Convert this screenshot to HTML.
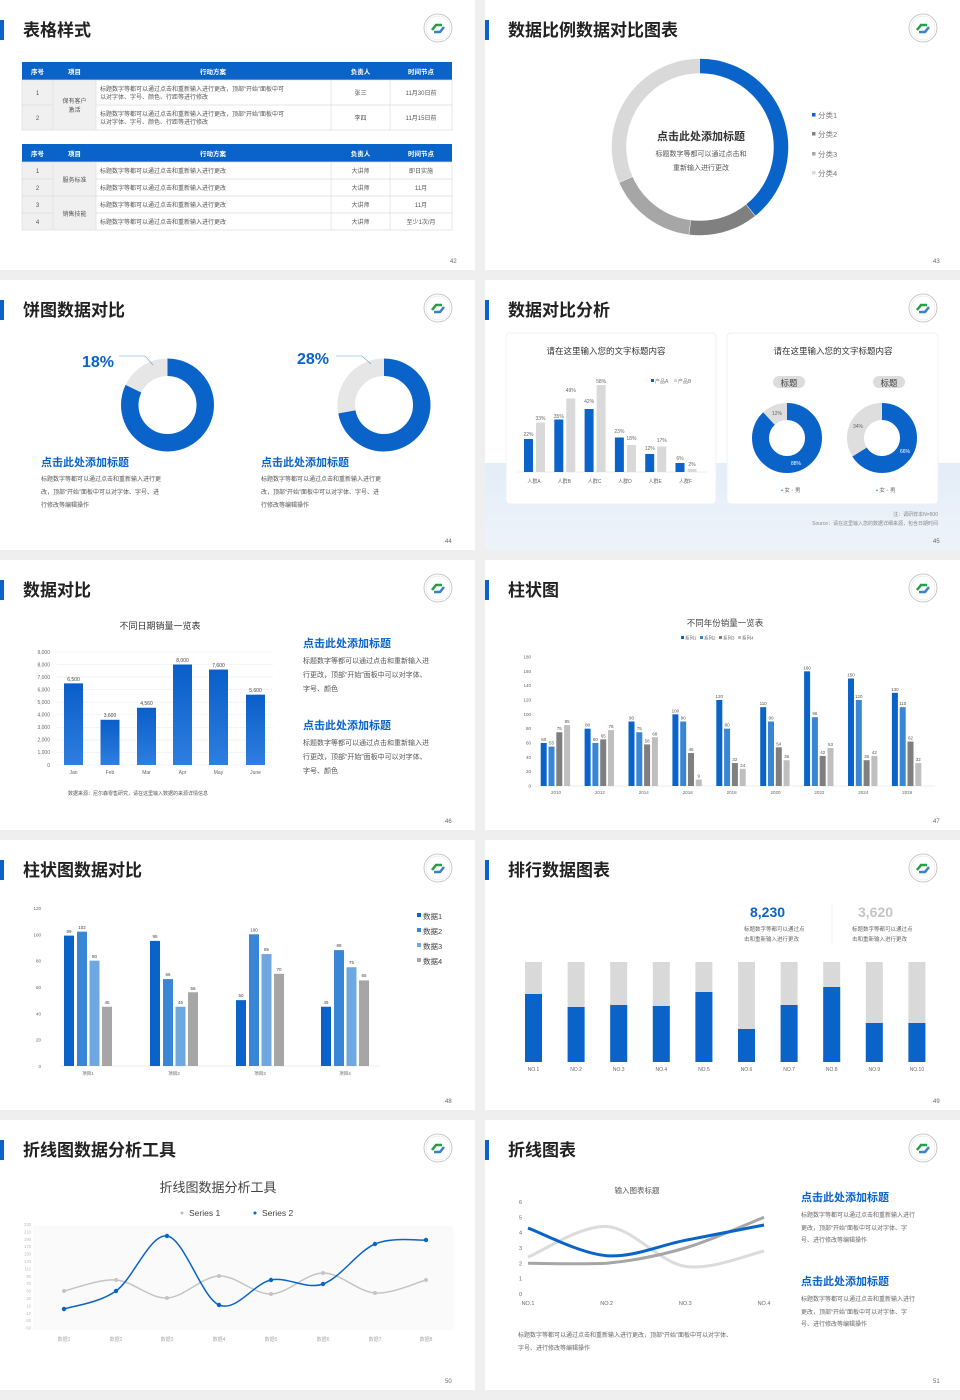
<!DOCTYPE html>
<html><head><meta charset="utf-8"><style>
html,body{margin:0;padding:0;background:#efefef;}
svg{display:block;font-family:"Liberation Sans","Noto Sans CJK SC",sans-serif;}
.t{font-size:17px;font-weight:bold;fill:#222;}
.pg{font-size:6px;fill:#666;}
.s6{font-size:6px;fill:#555;}
.s5{font-size:5px;fill:#555;}
.hd{font-size:6.5px;fill:#fff;font-weight:bold;}
.bh{font-size:11px;font-weight:bold;fill:#0a63c9;}
.bd{font-size:7px;fill:#555;}
</style></head><body>
<svg width="960" height="1400" viewBox="0 0 960 1400" xmlns="http://www.w3.org/2000/svg">
<defs>
<g id="logo"><circle cx="438" cy="28" r="14" fill="#fff" stroke="#bbb" stroke-width="0.8"/><circle cx="438" cy="28" r="12" fill="none" stroke="#ddd" stroke-width="0.5"/><path d="M432 30 l4 -5 h6" stroke="#2a9d4b" stroke-width="2.6" fill="none"/><path d="M444 27 l-4 5 h-6" stroke="#3a7fd0" stroke-width="2.6" fill="none"/></g>
<linearGradient id="bg5" x1="0" y1="0" x2="0" y2="1"><stop offset="0" stop-color="#2f7ee0"/><stop offset="1" stop-color="#0a5ec8"/></linearGradient>
<linearGradient id="lb" x1="0" y1="0" x2="0" y2="1"><stop offset="0" stop-color="#e3edf8"/><stop offset="1" stop-color="#eef3fa"/></linearGradient>
</defs>

<!-- Slide 42 -->
<g transform="translate(0,0)">
<rect width="475" height="270" fill="#fff"/><rect x="0" y="20" width="4" height="20" fill="#0a63c9"/>
<text x="23" y="36" class="t">表格样式</text><use href="#logo"/><text x="450" y="263" class="pg">42</text>
<rect x="22" y="62" width="430" height="18" fill="#0a63c9"/>
<rect x="22" y="80" width="74" height="50" fill="#f0f0f0"/>
<g stroke="#ddd" stroke-width="0.7" fill="none"><rect x="22" y="80" width="430" height="50"/><line x1="22" y1="105" x2="53" y2="105"/><line x1="96" y1="105" x2="452" y2="105"/><line x1="53" y1="80" x2="53" y2="130"/><line x1="96" y1="80" x2="96" y2="130"/><line x1="331" y1="80" x2="331" y2="130"/><line x1="390" y1="80" x2="390" y2="130"/></g>
<g text-anchor="middle"><text x="37.5" y="74" class="hd">序号</text><text x="74.5" y="74" class="hd">项目</text><text x="213" y="74" class="hd">行动方案</text><text x="360.5" y="74" class="hd">负责人</text><text x="421" y="74" class="hd">时间节点</text>
<text x="37.5" y="95" class="s6">1</text><text x="37.5" y="120" class="s6">2</text><text x="74.5" y="103" class="s6">保有客户</text><text x="74.5" y="112" class="s6">激活</text>
<text x="360.5" y="95" class="s6">张三</text><text x="360.5" y="120" class="s6">李四</text><text x="421" y="95" class="s6">11月30日前</text><text x="421" y="120" class="s6">11月15日前</text></g>
<text x="100" y="91" class="s6">标题数字等都可以通过点击和重新输入进行更改，顶部“开始”面板中可</text><text x="100" y="99" class="s6">以对字体、字号、颜色、行距等进行修改</text>
<text x="100" y="116" class="s6">标题数字等都可以通过点击和重新输入进行更改，顶部“开始”面板中可</text><text x="100" y="124" class="s6">以对字体、字号、颜色、行距等进行修改</text>
<rect x="22" y="144" width="430" height="18" fill="#0a63c9"/>
<rect x="22" y="162" width="74" height="68" fill="#f0f0f0"/>
<g stroke="#ddd" stroke-width="0.7" fill="none"><rect x="22" y="162" width="430" height="68"/><line x1="22" y1="179" x2="53" y2="179"/><line x1="96" y1="179" x2="452" y2="179"/><line x1="22" y1="196" x2="452" y2="196"/><line x1="22" y1="213" x2="53" y2="213"/><line x1="96" y1="213" x2="452" y2="213"/><line x1="53" y1="162" x2="53" y2="230"/><line x1="96" y1="162" x2="96" y2="230"/><line x1="331" y1="162" x2="331" y2="230"/><line x1="390" y1="162" x2="390" y2="230"/></g>
<g text-anchor="middle"><text x="37.5" y="156" class="hd">序号</text><text x="74.5" y="156" class="hd">项目</text><text x="213" y="156" class="hd">行动方案</text><text x="360.5" y="156" class="hd">负责人</text><text x="421" y="156" class="hd">时间节点</text>
<text x="37.5" y="173" class="s6">1</text><text x="37.5" y="190" class="s6">2</text><text x="37.5" y="207" class="s6">3</text><text x="37.5" y="224" class="s6">4</text>
<text x="74.5" y="182" class="s6">服务标准</text><text x="74.5" y="216" class="s6">销售技能</text>
<text x="360.5" y="173" class="s6">大讲师</text><text x="360.5" y="190" class="s6">大讲师</text><text x="360.5" y="207" class="s6">大讲师</text><text x="360.5" y="224" class="s6">大讲师</text>
<text x="421" y="173" class="s6">即日实施</text><text x="421" y="190" class="s6">11月</text><text x="421" y="207" class="s6">11月</text><text x="421" y="224" class="s6">至少1次/月</text></g>
<text x="100" y="173" class="s6">标题数字等都可以通过点击和重新输入进行更改</text><text x="100" y="190" class="s6">标题数字等都可以通过点击和重新输入进行更改</text><text x="100" y="207" class="s6">标题数字等都可以通过点击和重新输入进行更改</text><text x="100" y="224" class="s6">标题数字等都可以通过点击和重新输入进行更改</text>
</g>

<!-- Slide 43 -->
<g transform="translate(485,0)">
<rect width="475" height="270" fill="#fff"/><rect x="0" y="20" width="4" height="20" fill="#0a63c9"/>
<text x="23" y="36" class="t">数据比例数据对比图表</text><use href="#logo"/><text x="448" y="263" class="pg">43</text>
<g transform="rotate(-90 215 147)" fill="none" stroke-width="14.5">
<circle cx="215" cy="147" r="81" stroke="#0a63c9" stroke-dasharray="199.3 600"/>
<circle cx="215" cy="147" r="81" stroke="#808080" stroke-dasharray="0 199.8 64.5 600"/>
<circle cx="215" cy="147" r="81" stroke="#a6a6a6" stroke-dasharray="0 264.8 82.9 600"/>
<circle cx="215" cy="147" r="81" stroke="#d9d9d9" stroke-dasharray="0 348.2 160.7 600"/>
</g>
<g text-anchor="middle"><text x="216" y="140" font-size="11" font-weight="bold" fill="#333">点击此处添加标题</text><text x="216" y="156" font-size="7" fill="#555">标题数字等都可以通过点击和</text><text x="216" y="170" font-size="7" fill="#555">重新输入进行更改</text></g>
<rect x="327" y="113" width="3.5" height="3.5" fill="#0a63c9"/><text x="333" y="118" font-size="7.5" fill="#777">分类1</text>
<rect x="327" y="132" width="3.5" height="3.5" fill="#808080"/><text x="333" y="137" font-size="7.5" fill="#777">分类2</text>
<rect x="327" y="152" width="3.5" height="3.5" fill="#a6a6a6"/><text x="333" y="157" font-size="7.5" fill="#777">分类3</text>
<rect x="327" y="171" width="3.5" height="3.5" fill="#d9d9d9"/><text x="333" y="176" font-size="7.5" fill="#777">分类4</text>
</g>

<!-- Slide 44 -->
<g transform="translate(0,280)">
<rect width="475" height="270" fill="#fff"/><rect x="0" y="20" width="4" height="20" fill="#0a63c9"/>
<text x="23" y="36" class="t">饼图数据对比</text><use href="#logo"/><text x="445" y="263" class="pg">44</text>
<g fill="none" stroke-width="17.5">
<g transform="rotate(-90 167.5 125)"><circle cx="167.5" cy="125" r="37.75" stroke="#0a63c9" stroke-dasharray="194.5 400"/><circle cx="167.5" cy="125" r="37.75" stroke="#e6e6e6" stroke-dasharray="0 194.5 42.7 400"/></g>
<g transform="rotate(-90 384 125)"><circle cx="384" cy="125" r="37.75" stroke="#0a63c9" stroke-dasharray="170.8 400"/><circle cx="384" cy="125" r="37.75" stroke="#e6e6e6" stroke-dasharray="0 170.8 66.4 400"/></g>
</g>
<text x="82" y="87" font-size="16" font-weight="bold" fill="#0a63c9">18%</text>
<polyline points="119,76 145,76 153,85" fill="none" stroke="#6a9fd8" stroke-width="0.6"/>
<text x="297" y="84" font-size="16" font-weight="bold" fill="#0a63c9">28%</text>
<polyline points="336,76 362,76 371,84" fill="none" stroke="#6a9fd8" stroke-width="0.6"/>
<text x="41" y="186" class="bh">点击此处添加标题</text>
<text x="41" y="201" class="s6">标题数字等都可以通过点击和重新输入进行更</text><text x="41" y="214" class="s6">改，顶部“开始”面板中可以对字体、字号、进</text><text x="41" y="227" class="s6">行修改等编辑操作</text>
<text x="261" y="186" class="bh">点击此处添加标题</text>
<text x="261" y="201" class="s6">标题数字等都可以通过点击和重新输入进行更</text><text x="261" y="214" class="s6">改，顶部“开始”面板中可以对字体、字号、进</text><text x="261" y="227" class="s6">行修改等编辑操作</text>
</g>

<!-- Slide 45 -->
<g transform="translate(485,280)">
<rect width="475" height="270" fill="#fff"/><rect x="0" y="183" width="475" height="87" fill="url(#lb)"/><rect x="0" y="20" width="4" height="20" fill="#0a63c9"/>
<text x="23" y="36" class="t">数据对比分析</text><use href="#logo"/><text x="448" y="263" class="pg">45</text>
<rect x="21" y="53" width="210" height="171" rx="4" fill="#fff" stroke="#eef0f3"/>
<rect x="242" y="53" width="211" height="171" rx="4" fill="#fff" stroke="#eef0f3"/>
<text x="121" y="74" font-size="8.5" fill="#333" text-anchor="middle">请在这里输入您的文字标题内容</text>
<text x="348" y="74" font-size="8.5" fill="#333" text-anchor="middle">请在这里输入您的文字标题内容</text>
<rect x="166" y="99" width="3" height="3" fill="#0a63c9"/><text x="170" y="103" font-size="5" fill="#777">产品A</text>
<rect x="189" y="99" width="3" height="3" fill="#d9d9d9"/><text x="193" y="103" font-size="5" fill="#777">产品B</text>
<line x1="32" y1="192" x2="222" y2="192" stroke="#ddd" stroke-width="0.6"/>
<g transform="translate(0,192) scale(1,-1.5)">
<rect x="39" y="0" width="9" height="22" fill="#0a63c9"/><rect x="51" y="0" width="9" height="33" fill="#d9d9d9"/>
<rect x="69.3" y="0" width="9" height="35" fill="#0a63c9"/><rect x="81.3" y="0" width="9" height="49" fill="#d9d9d9"/>
<rect x="99.6" y="0" width="9" height="42" fill="#0a63c9"/><rect x="111.6" y="0" width="9" height="58" fill="#d9d9d9"/>
<rect x="129.9" y="0" width="9" height="23" fill="#0a63c9"/><rect x="141.9" y="0" width="9" height="18" fill="#d9d9d9"/>
<rect x="160.2" y="0" width="9" height="12" fill="#0a63c9"/><rect x="172.2" y="0" width="9" height="17" fill="#d9d9d9"/>
<rect x="190.5" y="0" width="9" height="6" fill="#0a63c9"/><rect x="202.5" y="0" width="9" height="2" fill="#d9d9d9"/>
</g>
<g font-size="5" fill="#666" text-anchor="middle">
<text x="43.5" y="156">22%</text><text x="55.5" y="140">33%</text><text x="73.8" y="138">35%</text><text x="85.8" y="112">49%</text><text x="104.1" y="123">42%</text><text x="116.1" y="103">58%</text>
<text x="134.4" y="153">23%</text><text x="146.4" y="160">18%</text><text x="164.7" y="170">12%</text><text x="176.7" y="162">17%</text><text x="195" y="180">6%</text><text x="207" y="186">2%</text>
<text x="49" y="203">人群A</text><text x="79.3" y="203">人群B</text><text x="109.6" y="203">人群C</text><text x="139.9" y="203">人群D</text><text x="170.2" y="203">人群E</text><text x="200.5" y="203">人群F</text></g>
<rect x="288" y="96" width="32" height="12" rx="6" fill="#dcdcdc"/><text x="304" y="106" font-size="8.5" fill="#444" text-anchor="middle">标题</text>
<rect x="388" y="96" width="32" height="12" rx="6" fill="#dcdcdc"/><text x="404" y="106" font-size="8.5" fill="#444" text-anchor="middle">标题</text>
<g fill="none" stroke-width="17">
<g transform="rotate(-90 302 158)"><circle cx="302" cy="158" r="26.5" stroke="#0a63c9" stroke-dasharray="146.5 300"/><circle cx="302" cy="158" r="26.5" stroke="#dedede" stroke-dasharray="0 146.5 20 300"/></g>
<g transform="rotate(-90 397 158)"><circle cx="397" cy="158" r="26.5" stroke="#0a63c9" stroke-dasharray="109.9 300"/><circle cx="397" cy="158" r="26.5" stroke="#dedede" stroke-dasharray="0 109.9 56.6 300"/></g>
</g>
<g font-size="5" text-anchor="middle"><text x="292" y="135" fill="#666">12%</text><text x="311" y="185" fill="#fff">88%</text><text x="373" y="148" fill="#666">34%</text><text x="420" y="173" fill="#fff">66%</text></g>
<g font-size="5.5" fill="#666"><text x="296" y="212"><tspan fill="#0a63c9">•</tspan> 女 <tspan fill="#ccc">•</tspan> 男</text><text x="391" y="212"><tspan fill="#0a63c9">•</tspan> 女 <tspan fill="#ccc">•</tspan> 男</text></g>
<g font-size="5" fill="#888" text-anchor="end"><text x="453" y="236">注：调研样本N=500</text><text x="453" y="245">Source：请在这里输入您的数据详细来源，包含日期时间</text></g>
</g>

<!-- Slide 46 -->
<g transform="translate(0,560)">
<rect width="475" height="270" fill="#fff"/><rect x="0" y="20" width="4" height="20" fill="#0a63c9"/>
<text x="23" y="36" class="t">数据对比</text><use href="#logo"/><text x="445" y="263" class="pg">46</text>
<text x="160" y="69" font-size="9" fill="#333" text-anchor="middle">不同日期销量一览表</text>
<g stroke="#eee" stroke-width="0.6"><line x1="57" y1="92" x2="273" y2="92"/><line x1="57" y1="104.6" x2="273" y2="104.6"/><line x1="57" y1="117.1" x2="273" y2="117.1"/><line x1="57" y1="129.7" x2="273" y2="129.7"/><line x1="57" y1="142.2" x2="273" y2="142.2"/><line x1="57" y1="154.8" x2="273" y2="154.8"/><line x1="57" y1="167.3" x2="273" y2="167.3"/><line x1="57" y1="179.9" x2="273" y2="179.9"/><line x1="57" y1="192.4" x2="273" y2="192.4"/><line x1="57" y1="205" x2="273" y2="205"/></g>
<g font-size="5" fill="#666" text-anchor="end"><text x="50" y="94">9,000</text><text x="50" y="106.5">8,000</text><text x="50" y="119">7,000</text><text x="50" y="131.5">6,000</text><text x="50" y="144">5,000</text><text x="50" y="156.5">4,000</text><text x="50" y="169">3,000</text><text x="50" y="181.5">2,000</text><text x="50" y="194">1,000</text><text x="50" y="207">0</text></g>
<g transform="translate(0,205) scale(1,-0.01256)" fill="url(#bg5)">
<rect x="64" y="0" width="19" height="6500"/><rect x="100.5" y="0" width="19" height="3600"/><rect x="137" y="0" width="19" height="4560"/><rect x="173" y="0" width="19" height="8000"/><rect x="209" y="0" width="19" height="7600"/><rect x="246" y="0" width="19" height="5600"/>
</g>
<g font-size="5" fill="#444" text-anchor="middle"><text x="73.5" y="121">6,500</text><text x="110" y="157">3,600</text><text x="146.5" y="145">4,560</text><text x="182.5" y="102">8,000</text><text x="218.5" y="107">7,600</text><text x="255.5" y="132">5,600</text>
<text x="73.5" y="214" fill="#666">Jan</text><text x="110" y="214" fill="#666">Feb</text><text x="146.5" y="214" fill="#666">Mar</text><text x="182.5" y="214" fill="#666">Apr</text><text x="218.5" y="214" fill="#666">May</text><text x="255.5" y="214" fill="#666">June</text></g>
<text x="68" y="235" font-size="5" fill="#555">数据来源：尼尔森零售研究，请在这里输入数据的来源详情信息</text>
<text x="303" y="87" class="bh">点击此处添加标题</text>
<text x="303" y="103" class="bd">标题数字等都可以通过点击和重新输入进</text><text x="303" y="117" class="bd">行更改，顶部“开始”面板中可以对字体、</text><text x="303" y="131" class="bd">字号、颜色</text>
<text x="303" y="169" class="bh">点击此处添加标题</text>
<text x="303" y="185" class="bd">标题数字等都可以通过点击和重新输入进</text><text x="303" y="199" class="bd">行更改，顶部“开始”面板中可以对字体、</text><text x="303" y="213" class="bd">字号、颜色</text>
</g>

<!-- Slide 47 -->
<g transform="translate(485,560)">
<rect width="475" height="270" fill="#fff"/><rect x="0" y="20" width="4" height="20" fill="#0a63c9"/>
<text x="23" y="36" class="t">柱状图</text><use href="#logo"/><text x="448" y="263" class="pg">47</text>
<text x="240" y="66" font-size="8.5" fill="#444" text-anchor="middle">不同年份销量一览表</text>
<g font-size="4.5" fill="#666"><rect x="196" y="76" width="3" height="3" fill="#0a63c9"/><text x="200" y="79.5">系列1</text><rect x="215" y="76" width="3" height="3" fill="#3a86d6"/><text x="219" y="79.5">系列2</text><rect x="234" y="76" width="3" height="3" fill="#7f7f7f"/><text x="238" y="79.5">系列3</text><rect x="253" y="76" width="3" height="3" fill="#bfbfbf"/><text x="257" y="79.5">系列4</text></g>
<g font-size="4.5" fill="#666" text-anchor="end"><text x="46" y="98.5">180</text><text x="46" y="112.8">160</text><text x="46" y="127.1">140</text><text x="46" y="141.5">120</text><text x="46" y="155.8">100</text><text x="46" y="170.1">80</text><text x="46" y="184.5">60</text><text x="46" y="198.8">40</text><text x="46" y="213.1">20</text><text x="46" y="227.5">0</text></g>
<line x1="50" y1="226" x2="450" y2="226" stroke="#ddd" stroke-width="0.6"/>
<g transform="translate(0,226) scale(1,-0.7167)">
<g fill="#0a63c9"><rect x="55.7" y="0" width="6" height="60"/><rect x="99.6" y="0" width="6" height="80"/><rect x="143.5" y="0" width="6" height="90"/><rect x="187.4" y="0" width="6" height="100"/><rect x="231.3" y="0" width="6" height="120"/><rect x="275.2" y="0" width="6" height="110"/><rect x="319.1" y="0" width="6" height="160"/><rect x="363" y="0" width="6" height="150"/><rect x="406.9" y="0" width="6" height="130"/></g>
<g fill="#3a86d6"><rect x="63.5" y="0" width="6" height="55"/><rect x="107.4" y="0" width="6" height="60"/><rect x="151.3" y="0" width="6" height="75"/><rect x="195.2" y="0" width="6" height="90"/><rect x="239.1" y="0" width="6" height="80"/><rect x="283" y="0" width="6" height="90"/><rect x="326.9" y="0" width="6" height="96"/><rect x="370.8" y="0" width="6" height="120"/><rect x="414.7" y="0" width="6" height="110"/></g>
<g fill="#7f7f7f"><rect x="71.3" y="0" width="6" height="75"/><rect x="115.2" y="0" width="6" height="65"/><rect x="159.1" y="0" width="6" height="58"/><rect x="203" y="0" width="6" height="46"/><rect x="246.9" y="0" width="6" height="32"/><rect x="290.8" y="0" width="6" height="54"/><rect x="334.7" y="0" width="6" height="42"/><rect x="378.6" y="0" width="6" height="36"/><rect x="422.5" y="0" width="6" height="62"/></g>
<g fill="#bfbfbf"><rect x="79.1" y="0" width="6" height="85"/><rect x="123" y="0" width="6" height="78"/><rect x="166.9" y="0" width="6" height="68"/><rect x="210.8" y="0" width="6" height="9"/><rect x="254.7" y="0" width="6" height="24"/><rect x="298.6" y="0" width="6" height="36"/><rect x="342.5" y="0" width="6" height="53"/><rect x="386.4" y="0" width="6" height="42"/><rect x="430.3" y="0" width="6" height="32"/></g>
</g>
<g font-size="4.5" fill="#555" text-anchor="middle">
<text x="58.7" y="181">60</text><text x="66.5" y="184.6">55</text><text x="74.3" y="170.2">75</text><text x="82.1" y="163">85</text>
<text x="102.6" y="166.7">80</text><text x="110.4" y="181">60</text><text x="118.2" y="177.4">65</text><text x="126" y="168">78</text>
<text x="146.5" y="159.5">90</text><text x="154.3" y="170.2">75</text><text x="162.1" y="182.4">58</text><text x="169.9" y="175.3">68</text>
<text x="190.4" y="152.3">100</text><text x="198.2" y="159.5">90</text><text x="206" y="191">46</text><text x="213.8" y="217.5">9</text>
<text x="234.3" y="138">120</text><text x="242.1" y="166.7">80</text><text x="249.9" y="201">32</text><text x="257.7" y="206.8">24</text>
<text x="278.2" y="145.2">110</text><text x="286" y="159.5">90</text><text x="293.8" y="185.3">54</text><text x="301.6" y="198.2">36</text>
<text x="322.1" y="109.3">160</text><text x="329.9" y="155.2">96</text><text x="337.7" y="193.9">42</text><text x="345.5" y="186">53</text>
<text x="366" y="116.5">150</text><text x="373.8" y="138">120</text><text x="381.6" y="198.2">36</text><text x="389.4" y="193.9">42</text>
<text x="409.9" y="130.8">130</text><text x="417.7" y="145.2">110</text><text x="425.5" y="179.6">62</text><text x="433.3" y="201">32</text></g>
<g font-size="4.5" fill="#666" text-anchor="middle"><text x="71" y="234">2010</text><text x="114.9" y="234">2012</text><text x="158.8" y="234">2014</text><text x="202.7" y="234">2016</text><text x="246.6" y="234">2018</text><text x="290.5" y="234">2020</text><text x="334.4" y="234">2022</text><text x="378.3" y="234">2024</text><text x="422.2" y="234">2026</text></g>
</g>

<!-- Slide 48 -->
<g transform="translate(0,840)">
<rect width="475" height="270" fill="#fff"/><rect x="0" y="20" width="4" height="20" fill="#0a63c9"/>
<text x="23" y="36" class="t">柱状图数据对比</text><use href="#logo"/><text x="445" y="263" class="pg">48</text>
<g font-size="4.5" fill="#666" text-anchor="end"><text x="41" y="70">120</text><text x="41" y="96.4">100</text><text x="41" y="122.7">80</text><text x="41" y="149">60</text><text x="41" y="175.4">40</text><text x="41" y="201.7">20</text><text x="41" y="228">0</text></g>
<line x1="60" y1="226" x2="380" y2="226" stroke="#ddd" stroke-width="0.6"/>
<g transform="translate(0,226) scale(1,-1.317)">
<g fill="#0a63c9"><rect x="64" y="0" width="10" height="99"/><rect x="150" y="0" width="10" height="95"/><rect x="236" y="0" width="10" height="50"/><rect x="321" y="0" width="10" height="45"/></g>
<g fill="#3a86d6"><rect x="77" y="0" width="10" height="102"/><rect x="163" y="0" width="10" height="66"/><rect x="249" y="0" width="10" height="100"/><rect x="334" y="0" width="10" height="88"/></g>
<g fill="#6fa8e0"><rect x="89.5" y="0" width="10" height="80"/><rect x="175.5" y="0" width="10" height="45"/><rect x="261.5" y="0" width="10" height="85"/><rect x="346.5" y="0" width="10" height="75"/></g>
<g fill="#a6a6a6"><rect x="102" y="0" width="10" height="45"/><rect x="188" y="0" width="10" height="56"/><rect x="274" y="0" width="10" height="70"/><rect x="359" y="0" width="10" height="65"/></g>
</g>
<g font-size="4.5" fill="#444" text-anchor="middle">
<text x="69" y="93">99</text><text x="82" y="89">102</text><text x="94.5" y="118">80</text><text x="107" y="164">45</text>
<text x="155" y="98">95</text><text x="168" y="136">66</text><text x="180.5" y="164">45</text><text x="193" y="150">56</text>
<text x="241" y="157">50</text><text x="254" y="91.5">100</text><text x="266.5" y="111">85</text><text x="279" y="131">70</text>
<text x="326" y="164">45</text><text x="339" y="107">88</text><text x="351.5" y="124">75</text><text x="364" y="137">65</text>
<text x="88" y="235" fill="#666">项目1</text><text x="174" y="235" fill="#666">项目2</text><text x="260" y="235" fill="#666">项目3</text><text x="345" y="235" fill="#666">项目4</text></g>
<g font-size="7.5" fill="#444"><rect x="417" y="73" width="4" height="4" fill="#0a63c9"/><text x="423" y="79">数据1</text><rect x="417" y="88" width="4" height="4" fill="#3a86d6"/><text x="423" y="94">数据2</text><rect x="417" y="103" width="4" height="4" fill="#6fa8e0"/><text x="423" y="109">数据3</text><rect x="417" y="118" width="4" height="4" fill="#a6a6a6"/><text x="423" y="124">数据4</text></g>
</g>

<!-- Slide 49 -->
<g transform="translate(485,840)">
<rect width="475" height="270" fill="#fff"/><rect x="0" y="20" width="4" height="20" fill="#0a63c9"/>
<text x="23" y="36" class="t">排行数据图表</text><use href="#logo"/><text x="448" y="263" class="pg">49</text>
<text x="265" y="77" font-size="14" font-weight="bold" fill="#0a63c9">8,230</text>
<text x="373" y="77" font-size="14" font-weight="bold" fill="#c4c4c4">3,620</text>
<line x1="347" y1="63" x2="347" y2="103" stroke="#eee" stroke-width="0.8"/>
<g font-size="5.5" fill="#666"><text x="259" y="91">标题数字等都可以通过点</text><text x="259" y="101">击和重新输入进行更改</text><text x="367" y="91">标题数字等都可以通过点</text><text x="367" y="101">击和重新输入进行更改</text></g>
<g fill="#d9d9d9"><rect x="40" y="122" width="17" height="100"/><rect x="82.6" y="122" width="17" height="100"/><rect x="125.2" y="122" width="17" height="100"/><rect x="167.8" y="122" width="17" height="100"/><rect x="210.4" y="122" width="17" height="100"/><rect x="253" y="122" width="17" height="100"/><rect x="295.6" y="122" width="17" height="100"/><rect x="338.2" y="122" width="17" height="100"/><rect x="380.8" y="122" width="17" height="100"/><rect x="423.4" y="122" width="17" height="100"/></g>
<g fill="#0a63c9" stroke="#9cc5ee" stroke-width="0"><rect x="40" y="154" width="17" height="68"/><rect x="82.6" y="167" width="17" height="55"/><rect x="125.2" y="165" width="17" height="57"/><rect x="167.8" y="166" width="17" height="56"/><rect x="210.4" y="152" width="17" height="70"/><rect x="253" y="189" width="17" height="33"/><rect x="295.6" y="165" width="17" height="57"/><rect x="338.2" y="147" width="17" height="75"/><rect x="380.8" y="183" width="17" height="39"/><rect x="423.4" y="183" width="17" height="39"/></g>
<g font-size="5" fill="#666" text-anchor="middle"><text x="48.5" y="231">NO.1</text><text x="91.1" y="231">NO.2</text><text x="133.7" y="231">NO.3</text><text x="176.3" y="231">NO.4</text><text x="218.9" y="231">NO.5</text><text x="261.5" y="231">NO.6</text><text x="304.1" y="231">NO.7</text><text x="346.7" y="231">NO.8</text><text x="389.3" y="231">NO.9</text><text x="431.9" y="231">NO.10</text></g>
</g>

<!-- Slide 50 -->
<g transform="translate(0,1120)">
<rect width="475" height="270" fill="#fff"/><rect x="0" y="20" width="4" height="20" fill="#0a63c9"/>
<text x="23" y="36" class="t">折线图数据分析工具</text><use href="#logo"/><text x="445" y="263" class="pg">50</text>
<text x="218" y="72" font-size="13" fill="#444" text-anchor="middle">折线图数据分析工具</text>
<g font-size="8.5" fill="#444"><circle cx="182" cy="93" r="1.5" fill="#bbb"/><text x="189" y="96">Series 1</text><circle cx="255" cy="93" r="1.5" fill="#0a63c9"/><text x="262" y="96">Series 2</text></g>
<rect x="33" y="106" width="420" height="104" fill="#fafafa"/>
<g font-size="4.2" fill="#bbb" text-anchor="end"><text x="31" y="106">230</text><text x="31" y="113.4">210</text><text x="31" y="120.8">190</text><text x="31" y="128.2">170</text><text x="31" y="135.6">150</text><text x="31" y="143">130</text><text x="31" y="150.4">110</text><text x="31" y="157.8">90</text><text x="31" y="165.2">70</text><text x="31" y="172.6">50</text><text x="31" y="180">30</text><text x="31" y="187.4">10</text><text x="31" y="194.8">-10</text><text x="31" y="202.2">-30</text><text x="31" y="209.6">-50</text></g>
<path d="M64 171 C72.7 169.2 98.8 158.8 116 160 C133.2 161.2 149.8 178.7 167 178 C184.2 177.3 201.7 156.7 219 156 C236.3 155.3 253.7 174.5 271 174 C288.3 173.5 305.7 153.2 323 153 C340.3 152.8 357.8 171.8 375 173 C392.2 174.2 417.5 162.2 426 160" fill="none" stroke="#c4c4c4" stroke-width="1.5"/>
<g fill="#c4c4c4"><circle cx="64" cy="171" r="2"/><circle cx="116" cy="160" r="2"/><circle cx="167" cy="178" r="2"/><circle cx="219" cy="156" r="2"/><circle cx="271" cy="174" r="2"/><circle cx="323" cy="153" r="2"/><circle cx="375" cy="173" r="2"/><circle cx="426" cy="160" r="2"/></g>
<path d="M64 189 C72.7 186 98.8 183.2 116 171 C133.2 158.8 149.8 113.7 167 116 C184.2 118.3 201.7 177.7 219 185 C236.3 192.3 253.7 163.5 271 160 C288.3 156.5 305.7 170 323 164 C340.3 158 357.8 131.3 375 124 C392.2 116.7 417.5 120.7 426 120" fill="none" stroke="#0a63c9" stroke-width="1.5"/>
<g fill="#0a63c9"><circle cx="64" cy="189" r="2.2"/><circle cx="116" cy="171" r="2.2"/><circle cx="167" cy="116" r="2.2"/><circle cx="219" cy="185" r="2.2"/><circle cx="271" cy="160" r="2.2"/><circle cx="323" cy="164" r="2.2"/><circle cx="375" cy="124" r="2.2"/><circle cx="426" cy="120" r="2.2"/></g>
<g font-size="5" fill="#aaa" text-anchor="middle"><text x="64" y="221">数据1</text><text x="116" y="221">数据2</text><text x="167" y="221">数据3</text><text x="219" y="221">数据4</text><text x="271" y="221">数据5</text><text x="323" y="221">数据6</text><text x="375" y="221">数据7</text><text x="426" y="221">数据8</text></g>
</g>

<!-- Slide 51 -->
<g transform="translate(485,1120)">
<rect width="475" height="270" fill="#fff"/><rect x="0" y="20" width="4" height="20" fill="#0a63c9"/>
<text x="23" y="36" class="t">折线图表</text><use href="#logo"/><text x="448" y="263" class="pg">51</text>
<text x="152" y="73" font-size="7.5" fill="#555" text-anchor="middle">输入图表标题</text>
<g font-size="5.5" fill="#666" text-anchor="end"><text x="37" y="84">6</text><text x="37" y="99.3">5</text><text x="37" y="114.7">4</text><text x="37" y="130">3</text><text x="37" y="145.3">2</text><text x="37" y="160.7">1</text><text x="37" y="176">0</text></g>
<path d="M43 137.2 C56.1 132.1 95.5 105 121.7 106.5 C147.9 108 174.1 142.3 200.3 146.4 C226.5 150.5 265.9 133.6 279 131.1" fill="none" stroke="#dcdcdc" stroke-width="3"/>
<path d="M43 143.3 C56.1 143.3 95.5 144.5 121.7 143.3 C147.9 140.7 174.1 135.7 200.3 128 C226.5 120.3 265.9 102.4 279 97.3" fill="none" stroke="#a6a6a6" stroke-width="3"/>
<path d="M43 108.1 C56.1 112.7 95.5 133.7 121.7 135.7 C147.9 137.7 174.1 125.4 200.3 120.3 C226.5 115.2 265.9 107.6 279 105" fill="none" stroke="#0a63c9" stroke-width="3"/>
<g font-size="5.5" fill="#666" text-anchor="middle"><text x="43" y="185">NO.1</text><text x="121.7" y="185">NO.2</text><text x="200.3" y="185">NO.3</text><text x="279" y="185">NO.4</text></g>
<g font-size="6" fill="#666"><text x="33" y="217">标题数字等都可以通过点击和重新输入进行更改，顶部“开始”面板中可以对字体、</text><text x="33" y="230">字号、进行修改等编辑操作</text></g>
<text x="316" y="81" class="bh">点击此处添加标题</text>
<g font-size="6" fill="#666"><text x="316" y="97">标题数字等都可以通过点击和重新输入进行</text><text x="316" y="110">更改，顶部“开始”面板中可以对字体、字</text><text x="316" y="122">号、进行修改等编辑操作</text></g>
<text x="316" y="165" class="bh">点击此处添加标题</text>
<g font-size="6" fill="#666"><text x="316" y="181">标题数字等都可以通过点击和重新输入进行</text><text x="316" y="194">更改，顶部“开始”面板中可以对字体、字</text><text x="316" y="206">号、进行修改等编辑操作</text></g>
</g>
</svg>
</body></html>
